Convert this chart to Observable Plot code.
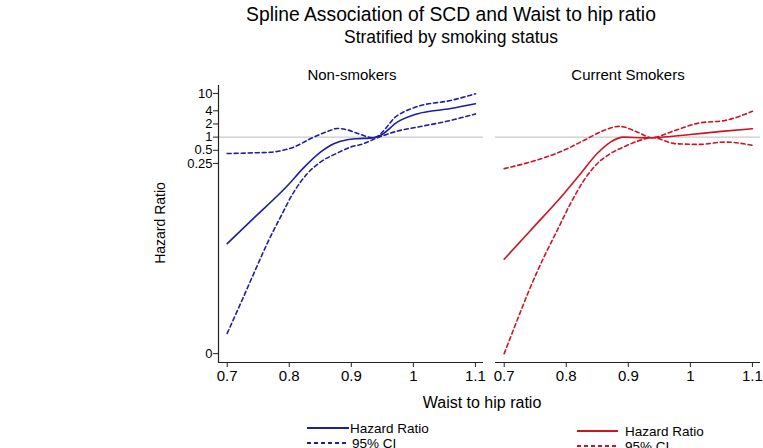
<!DOCTYPE html>
<html><head><meta charset="utf-8">
<script src="https://cdn.jsdelivr.net/npm/d3@7"></script>
<script src="https://cdn.jsdelivr.net/npm/@observablehq/plot@0.6"></script>
<style>
body{margin:0;background:#fff;}
#wrap{position:relative;width:763px;height:448px;overflow:hidden;font-family:"Liberation Sans",Arial,sans-serif;color:#000;background:#fff;}
#wrap > svg{position:absolute;}
</style></head><body><div id="wrap"></div>
<script>
// ---- tick labels ----
const xTicks = [0.7, 0.8, 0.9, 1, 1.1];
const yTickValues = [1.1e-5, 0.25, 0.5, 1, 2, 4, 10];
const yTickLabels = ["0", "0.25", "0.5", "1", "2", "4", "10"];
const panelTitles = ["Non-smokers", "Current Smokers"];

// ---- Non-smokers ----
const nsHrX = [0.70, 0.7428, 0.7966, 0.8234, 0.8503, 0.8718, 0.8933, 0.909, 0.931, 0.947, 0.974, 1.006, 1.06, 1.10];
const nsHrY = [0.00364, 0.0140, 0.0760, 0.200, 0.453, 0.707, 0.87, 0.92, 0.95, 1.09, 2.2, 3.4, 4.5, 5.8];
const nsUpX = [0.70, 0.75, 0.7697, 0.807, 0.8395, 0.866, 0.877, 0.895, 0.909, 0.936, 0.974, 1.006, 1.06, 1.10];
const nsUpY = [0.42, 0.44, 0.45, 0.59, 1.0, 1.42, 1.58, 1.45, 1.23, 0.97, 3.1, 5.0, 6.9, 9.8];
const nsLoX = [0.70, 0.7214, 0.7428, 0.7644, 0.7859, 0.8073, 0.8289, 0.8503, 0.8772, 0.8986, 0.920, 0.942, 0.974, 1.006, 1.06, 1.10];
const nsLoY = [3.2e-5, 1.53e-4, 7.5e-4, 0.00364, 0.0148, 0.0552, 0.145, 0.268, 0.43, 0.59, 0.71, 0.97, 1.37, 1.69, 2.41, 3.4];

// ---- Current smokers ----
const csHrX = [0.70, 0.7424, 0.7962, 0.823, 0.8498, 0.8712, 0.8928, 0.926, 0.947, 1.0, 1.05, 1.10];
const csHrY = [0.0016, 0.0073, 0.0507, 0.145, 0.42, 0.77, 1.0, 0.96, 0.98, 1.15, 1.35, 1.56];
const csUpX = [0.70, 0.7424, 0.7962, 0.8284, 0.8606, 0.885, 0.915, 0.937, 0.975, 1.013, 1.056, 1.10];
const csUpY = [0.19, 0.27, 0.50, 0.84, 1.42, 1.76, 1.30, 0.97, 1.42, 2.09, 2.41, 3.9];
const csLoX = [0.70, 0.7209, 0.7424, 0.764, 0.7854, 0.8068, 0.8284, 0.8498, 0.8712, 0.8954, 0.914, 0.94, 0.975, 1.013, 1.056, 1.10];
const csLoY = [1.1e-5, 6.4e-5, 3.7e-4, 0.00179, 0.00729, 0.030, 0.102, 0.246, 0.42, 0.62, 0.80, 0.97, 0.71, 0.68, 0.77, 0.65];

const blue = "#1e1ea0";
const red = "#cc1424";
const xDomain = [0.686, 1.113];
const yDomain = [6.9e-6, 15.2];
const font = '"Liberation Sans", Arial, sans-serif';

const pts = (xs, ys) => xs.map((x, i) => ({x, y: ys[i]}));
const yTickData = yTickValues.map((v, i) => ({v, label: yTickLabels[i]}));

function panel(opts) {
  const {hrX, hrY, upX, upY, loX, loY, color, showY, left, width, marginLeft, marginRight} = opts;
  const lineOpts = {x: "x", y: "y", stroke: color, strokeWidth: 1.6, curve: "monotone-x"};
  const marks = [
    Plot.ruleY([1], {stroke: "#bdbdbd", strokeWidth: 1}),
    Plot.line(pts(upX, upY), {...lineOpts, strokeDasharray: "4,3"}),
    Plot.line(pts(loX, loY), {...lineOpts, strokeDasharray: "4,3"}),
    Plot.line(pts(hrX, hrY), lineOpts),
    Plot.ruleY([yDomain[0]], {stroke: "#222", strokeWidth: 1.2}),
    Plot.axisX(xTicks, {tickSize: 5, tickPadding: 3, fontSize: 15, tickFormat: d => String(d), stroke: "#222", label: null})
  ];
  if (showY) {
    marks.push(Plot.ruleX([xDomain[0]], {stroke: "#222", strokeWidth: 1.2}));
    marks.push(Plot.axisY(yTickValues, {tickSize: 5, tickFormat: () => "", stroke: "#222", label: null}));
    marks.push(Plot.text(yTickData, {x: xDomain[0], y: "v", text: "label", textAnchor: "end", dx: -6, fontSize: 13, fill: "#000"}));
  }
  const svg = Plot.plot({
    width, height: 402,
    marginLeft, marginRight, marginTop: 85, marginBottom: 40,
    style: {fontFamily: font, fontSize: "14px", color: "#000", background: "transparent", overflow: "visible"},
    x: {domain: xDomain},
    y: {type: "log", domain: yDomain, axis: null},
    marks
  });
  svg.style.left = left + "px";
  svg.style.top = "0px";
  return svg;
}

const wrap = document.getElementById("wrap");
wrap.appendChild(panel({hrX: nsHrX, hrY: nsHrY, upX: nsUpX, upY: nsUpY, loX: nsLoX, loY: nsLoY, color: blue, showY: true, left: 0, width: 490, marginLeft: 218, marginRight: 7}));
wrap.appendChild(panel({hrX: csHrX, hrY: csHrY, upX: csUpX, upY: csUpY, loX: csLoX, loY: csLoY, color: red, showY: false, left: 490, width: 273, marginLeft: 5, marginRight: 3}));

// ---- overlay text & legend ----
const ns = "http://www.w3.org/2000/svg";
const ov = document.createElementNS(ns, "svg");
ov.setAttribute("width", 763); ov.setAttribute("height", 448);
ov.style.left = "0px"; ov.style.top = "0px"; ov.style.fontFamily = font; ov.style.pointerEvents = "none";
wrap.appendChild(ov);
function txt(s, x, y, size, anchor = "middle", transform = null) {
  const t = document.createElementNS(ns, "text");
  t.setAttribute("x", x); t.setAttribute("y", y);
  t.setAttribute("font-size", size); t.setAttribute("text-anchor", anchor);
  t.setAttribute("fill", "#000");
  if (transform) t.setAttribute("transform", transform);
  t.textContent = s; ov.appendChild(t);
}
function seg(x1, x2, y, color, dash) {
  const l = document.createElementNS(ns, "line");
  l.setAttribute("x1", x1); l.setAttribute("x2", x2); l.setAttribute("y1", y); l.setAttribute("y2", y);
  l.setAttribute("stroke", color); l.setAttribute("stroke-width", 2);
  if (dash) l.setAttribute("stroke-dasharray", "4,3");
  ov.appendChild(l);
}
txt("Spline Association of SCD and Waist to hip ratio", 451, 21, 19.3);
txt("Stratified by smoking status", 451, 43, 17.5);
txt(panelTitles[0], 352, 80, 15);
txt(panelTitles[1], 628, 80, 15);
txt("Hazard Ratio", 0, 0, 14, "middle", "translate(165,223) rotate(-90)");
txt("Waist to hip ratio", 482, 408, 16);
seg(307, 349, 428, blue, false);
txt("Hazard Ratio", 350, 433, 13.5, "start");
seg(307, 346, 443, blue, true);
txt("95% CI", 352, 448, 13.5, "start");
seg(577, 618, 431, red, false);
txt("Hazard Ratio", 625, 436, 13.5, "start");
seg(577, 616, 446, red, true);
txt("95% CI", 625, 451, 13.5, "start");
</script></body></html>
